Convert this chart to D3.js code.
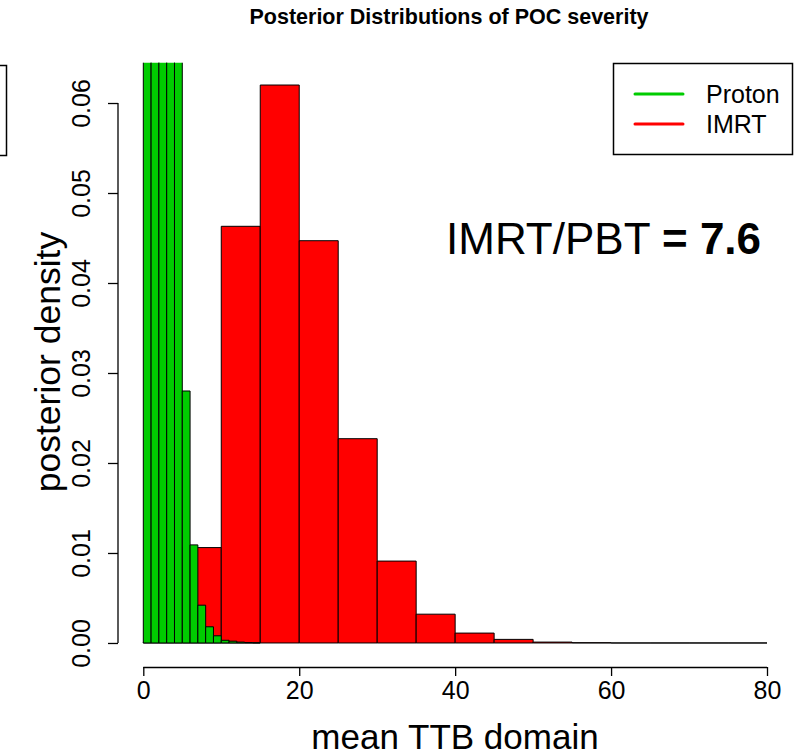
<!DOCTYPE html>
<html><head><meta charset="utf-8">
<script src="https://cdn.jsdelivr.net/npm/d3@7"></script>
<style>body{margin:0;background:#fff}svg{display:block}text{font-family:"Liberation Sans",Arial,sans-serif;fill:#000}</style>
</head><body>
<script>
const title = "Posterior Distributions of POC severity";
const xLabel = "mean TTB domain";
const yLabel = "posterior density";
const xTicks = [0, 20, 40, 60, 80];
const yTicks = [0.00, 0.01, 0.02, 0.03, 0.04, 0.05, 0.06];
// Proton (green) histogram: bins of width 1 starting at 0
const protonStart = 0, protonWidth = 1;
const protonDensity = [0.140, 0.230, 0.240, 0.200, 0.140, 0.0280, 0.0109, 0.0042, 0.0018, 0.0008, 0.0003, 0.0002, 0.0001, 0.00005, 0.00002];
// IMRT (red) histogram: bins of width 5 starting at 0
const imrtStart = 0, imrtWidth = 5;
const imrtDensity = [0.0001, 0.0106, 0.0463, 0.0620, 0.0447, 0.0227, 0.0091, 0.0032, 0.0011, 0.0004, 0.0001, 0.00003, 0, 0, 0, 0];
const legendItems = [{name: "Proton", color: "#00cc00"}, {name: "IMRT", color: "#ff0000"}];
const ratioLabel = "IMRT/PBT ", ratioValue = "= 7.6";

const W = 797, H = 756;
const svg = d3.select("body").append("svg").attr("width", W).attr("height", H);

const x = d3.scaleLinear().domain([0, 80]).range([143.3, 767]);
const y = d3.scaleLinear().domain([-0.00248, 0.06448]).range([665.3, 62.7]);

svg.append("defs").append("clipPath").attr("id", "plotclip")
  .append("rect").attr("x", 0).attr("y", y(0.06448)).attr("width", W).attr("height", y(-0.00248) - y(0.06448));

const plot = svg.append("g").attr("clip-path", "url(#plotclip)");

function bars(data, start, width, fill) {
  plot.append("g").selectAll("path").data(data).join("path")
    .attr("d", (d, i) => {
      const x0 = x(start + i * width), x1 = x(start + (i + 1) * width);
      return `M${x0},${y(0)}V${y(d)}H${x1}V${y(0)}Z`;
    })
    .attr("fill", fill).attr("stroke", "#000").attr("stroke-width", 1);
}
bars(imrtDensity, imrtStart, imrtWidth, "#ff0000");
bars(protonDensity, protonStart, protonWidth, "#00cc00");

// X axis (R style, offset below plot)
const xAxis = d3.axisBottom(x).tickValues(xTicks).tickSize(9).tickFormat(d3.format("d"));
const gx = svg.append("g").attr("transform", "translate(0,667)").call(xAxis);
gx.select(".domain").attr("d", `M${x(0)},0.5V0.5H${x(80)}V0.5`).attr("stroke", "#000").attr("stroke-width", 1.3);
gx.selectAll(".tick line").attr("stroke", "#000").attr("stroke-width", 1.3);
gx.selectAll(".tick text").attr("font-size", 25).attr("y", 14).attr("dy", "0.71em")
  .style("font-family", '"Liberation Sans",Arial,sans-serif').attr("fill", "#000");

// Y axis
const yAxis = d3.axisLeft(y).tickValues(yTicks).tickSize(10).tickFormat(d3.format(".2f"));
const gy = svg.append("g").attr("transform", "translate(118,0)").call(yAxis);
gy.select(".domain").attr("d", `M0,${y(0)}V${y(0.06)}`).attr("stroke", "#000").attr("stroke-width", 1.3);
gy.selectAll(".tick line").attr("stroke", "#000").attr("stroke-width", 1.3);
gy.selectAll(".tick text").attr("font-size", 25).attr("x", null).attr("dy", null)
  .attr("text-anchor", "middle")
  .attr("transform", "translate(-28,0) rotate(-90)")
  .style("font-family", '"Liberation Sans",Arial,sans-serif').attr("fill", "#000");

// Title
svg.append("text").attr("x", 449).attr("y", 24).attr("text-anchor", "middle")
  .attr("font-size", 21.5).attr("font-weight", "bold").text(title);

// Axis labels
svg.append("text").attr("x", 455).attr("y", 749).attr("text-anchor", "middle")
  .attr("font-size", 35).text(xLabel);
svg.append("text").attr("transform", `translate(60,362) rotate(-90)`).attr("text-anchor", "middle")
  .attr("font-size", 35.5).text(yLabel);

// Ratio annotation
const rt = svg.append("text").attr("x", 446).attr("y", 254).attr("font-size", 44);
rt.append("tspan").text(ratioLabel);
rt.append("tspan").attr("font-weight", "bold").text(ratioValue);

// Legend
const lg = svg.append("g");
lg.append("rect").attr("x", 613.5).attr("y", 63.5).attr("width", 179).attr("height", 91)
  .attr("fill", "#fff").attr("stroke", "#000").attr("stroke-width", 1.5);
legendItems.forEach((d, i) => {
  const ly = 94 + i * 30;
  lg.append("line").attr("x1", 635).attr("x2", 683).attr("y1", ly).attr("y2", ly)
    .attr("stroke", d.color).attr("stroke-width", 3).attr("stroke-linecap", "round");
  lg.append("text").attr("x", 706).attr("y", ly + 9).attr("font-size", 25).text(d.name);
});

// Partial box at the left edge (cropped element)
svg.append("rect").attr("x", -10).attr("y", 65.5).attr("width", 16.5).attr("height", 90)
  .attr("fill", "none").attr("stroke", "#000").attr("stroke-width", 1.5);
</script>
</body></html>
